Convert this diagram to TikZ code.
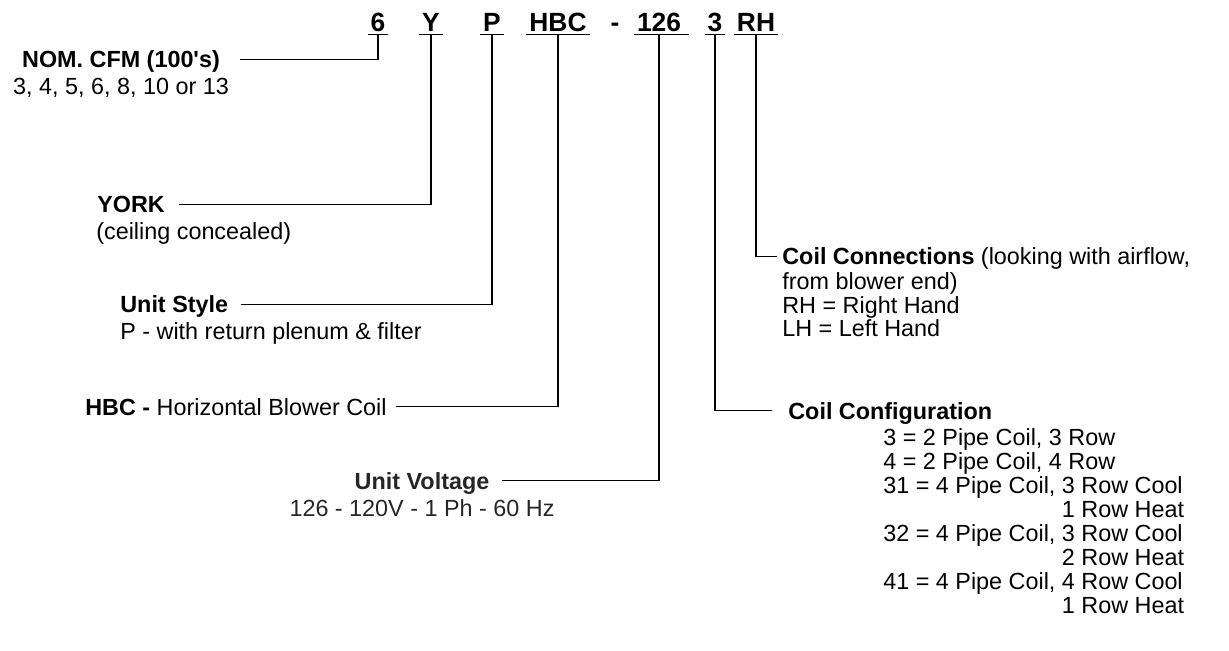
\documentclass[tikz,border=0pt]{standalone}
\usepackage{fontspec}
\setmainfont{Liberation Sans}
\usetikzlibrary{positioning}
\newcommand{\keyfont}{\fontsize{13.3}{13.6}\selectfont}

\tikzset{
  code/.style={font=\fontsize{15}{18}\selectfont\bfseries,anchor=base,inner xsep=1.5pt,inner ysep=0.05cm,text depth=0pt},
  head/.style={font=\keyfont\bfseries,inner sep=0pt,text height=9.5pt,text depth=0pt},
  note/.style={font=\keyfont,inner sep=0pt,align=left},
  lead/.style={line width=0.6pt}
}

\begin{document}
\begin{tikzpicture}[x=0.02cm,y=-0.02cm]
  \useasboundingbox (0,0) rectangle (1229,651);
  % model number
  \node[code] (c6) at (378,31.5) {6};
  \node[code] (cY) at (431,31.5) {Y};
  \node[code] (cP) at (492,31.5) {P};
  \node[code] (cHBC) at (558,31.5) {HBC};
  \node[code] (cdash) at (615,31.5) {-};
  \node[code] (c126) at (659,31.5) {126};
  \node[code] (c3) at (715,31.5) {3};
  \node[code] (cRH) at (756,31.5) {RH};
  \draw[lead] (c6.south west) -- (c6.south east);
  \draw[lead] (cY.south west) -- (cY.south east);
  \draw[lead] (cP.south west) -- (cP.south east);
  \draw[lead] (cHBC.south west) -- (cHBC.south east);
  \draw[lead] (c126.south west) -- ([xshift=3pt]c126.south east);
  \draw[lead] (c3.south west) -- (c3.south east);
  \draw[lead] (cRH.south west) -- (cRH.south east);

  % left side
  \node[head,anchor=base] (nomhead) at (121,68) {NOM. CFM (100\textquotesingle s)};
  \node[note,anchor=base] (nombody) at (121,95) {3, 4, 5, 6, 8, 10 or 13};
  \draw[lead] (c6.south) |- ([xshift=11pt]nomhead.east);

  \node[head,anchor=base west] (yorkhead) at (97,213) {YORK};
  \node[note,anchor=base west] (yorkbody) at (96,240) {(ceiling concealed)};
  \draw[lead] (cY.south) |- ([xshift=8pt]yorkhead.east);

  \node[head,anchor=base west] (stylehead) at (120,313) {Unit Style};
  \node[note,anchor=base west] (stylebody) at (120,340) {P - with return plenum \& filter};
  \draw[lead] (cP.south) |- ([xshift=7pt]stylehead.east);

  \node[head,anchor=base west] (hbchead) at (85,415) {HBC - {\mdseries Horizontal Blower Coil}};
  \draw[lead] (cHBC.south) |- ([xshift=5pt]hbchead.east);

  \node[head,anchor=base,text=black!85] (volthead) at (422,489) {Unit Voltage};
  \node[note,anchor=base,text=black!85] (voltbody) at (422,516) {126 - 120V - 1 Ph - 60 Hz};
  \draw[lead] (c126.south) |- ([xshift=7pt]volthead.east);

  % right side (base = last line)
  \node[head,anchor=base west] (connhead) at (782,265) {Coil Connections {\mdseries (looking with airflow,}};
  \node[note,anchor=base west] (connbody) at (782,337) {from blower end)\\RH = Right Hand\\LH = Left Hand};
  \draw[lead] (cRH.south) |- ([xshift=-3pt]connhead.west);

  \node[head,anchor=base west] (confhead) at (788,419) {Coil Configuration};
  \node[note,anchor=base west] (confbody) at (883,613) {3 = 2 Pipe Coil, 3 Row\\
    4 = 2 Pipe Coil, 4 Row\\
    31 = 4 Pipe Coil, 3 Row Cool\\
    \phantom{31 = 4 Pipe Coil, }1 Row Heat\\
    32 = 4 Pipe Coil, 3 Row Cool\\
    \phantom{32 = 4 Pipe Coil, }2 Row Heat\\
    41 = 4 Pipe Coil, 4 Row Cool\\
    \phantom{41 = 4 Pipe Coil, }1 Row Heat};
  \draw[lead] (c3.south) |- ([xshift=-9pt]confhead.west);
\end{tikzpicture}
\end{document}
